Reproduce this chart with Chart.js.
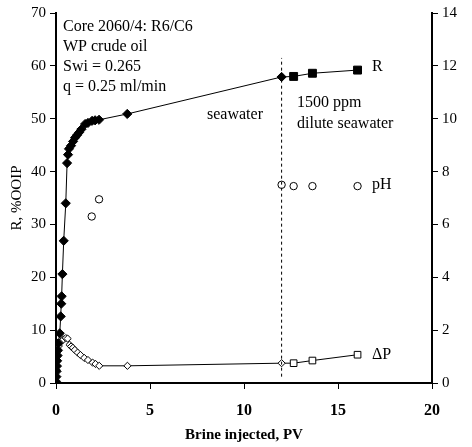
<!DOCTYPE html>
<html><head><meta charset="utf-8">
<script src="https://cdn.jsdelivr.net/npm/chart.js@4.4.1/dist/chart.umd.min.js"></script>
<style>html,body{margin:0;padding:0;background:#fff}</style>
</head><body>
<canvas id="c" width="472" height="447" style="display:block;width:472px;height:447px"></canvas>
<script>
// ---- data ----
const rSeaX = [0.0, 0.02, 0.03, 0.05, 0.06, 0.08, 0.1, 0.12, 0.2, 0.25, 0.28, 0.3, 0.34, 0.41, 0.52, 0.59, 0.64, 0.69, 0.8, 0.91, 1.01, 1.12, 1.23, 1.35, 1.55, 1.7, 1.92, 2.08, 2.29, 3.79, 12.0];
const rSeaY = [0.3, 1.2, 2.2, 3.2, 4.2, 5.2, 6.2, 7.5, 9.4, 12.6, 15.0, 16.4, 20.6, 26.9, 34.0, 41.6, 43.2, 44.3, 44.9, 45.7, 46.4, 46.9, 47.4, 48.0, 49.0, 49.2, 49.6, 49.7, 49.8, 50.9, 57.9];
const rDilX = [12.64, 13.64, 16.04];
const rDilY = [58.0, 58.6, 59.2];

const dpSeaX = [0.02, 0.04, 0.07, 0.1, 0.15, 0.25, 0.4, 0.52, 0.62, 0.72, 0.8, 0.9, 1.0, 1.15, 1.3, 1.5, 1.7, 1.95, 2.1, 2.3, 3.8, 12.0];
const dpSeaY = [0.5, 0.8, 1.0, 1.2, 1.4, 1.55, 1.65, 1.7, 1.68, 1.45, 1.38, 1.33, 1.25, 1.15, 1.06, 0.95, 0.87, 0.77, 0.72, 0.65, 0.65, 0.75];
const dpDilX = [12.64, 13.64, 16.04];
const dpDilY = [0.75, 0.85, 1.07];

const phX = [1.9, 2.29, 12.0, 12.64, 13.64, 16.04];
const phY = [6.3, 6.95, 7.5, 7.45, 7.45, 7.45];

const switchPV = 12;
const switchLine = [1.2, 61.5];

const xTicks = [0, 5, 10, 15, 20];
const yLeftTicks = [0, 10, 20, 30, 40, 50, 60, 70];
const yRightTicks = [0, 2, 4, 6, 8, 10, 12, 14];

// ---- build ----
const pts = (xs, ys) => xs.map((x, i) => ({x, y: ys[i]}));
const rData = pts(rSeaX, rSeaY).concat(pts(rDilX, rDilY));
const rStyle = rSeaX.map(() => 'rectRot').concat(rDilX.map(() => 'rect'));
const rRad = rSeaX.map(() => 4.6).concat(rDilX.map(() => 5.6));
const dpData = pts(dpSeaX, dpSeaY).concat(pts(dpDilX, dpDilY));
const dpStyle = dpSeaX.map(() => 'rectRot').concat(dpDilX.map(() => 'rect'));
const dpRad = dpSeaX.map(() => 3.6).concat(dpDilX.map(() => 4.7));

const SERIF = '"Liberation Serif", "Times New Roman", serif';

const annot = {
  id: 'annot',
  afterDraw(chart) {
    const ctx = chart.ctx;
    ctx.save();
    ctx.fillStyle = '#000';
    ctx.textBaseline = 'middle';
    ctx.textAlign = 'left';
    ctx.font = '16px ' + SERIF;
    const lines = ['Core 2060/4: R6/C6', 'WP crude oil', 'Swi = 0.265', 'q = 0.25 ml/min'];
    lines.forEach((t, i) => ctx.fillText(t, 63, 27 + i * 19.8));
    ctx.fillText('seawater', 207, 115);
    ctx.fillText('1500 ppm', 297, 103);
    ctx.fillText('dilute seawater', 297, 124);
    ctx.fillText('R', 372, 67);
    ctx.fillText('pH', 372, 185);
    ctx.fillText('\u0394P', 372, 355);
    ctx.restore();
  }
};

const axisCommon = (extra) => Object.assign({
  type: 'linear',
  grid: {display: true, drawOnChartArea: false, drawTicks: true, tickLength: 6, color: '#000', lineWidth: 1},
  border: {display: true, color: '#000', width: 2},
}, extra);

new Chart(document.getElementById('c'), {
  type: 'scatter',
  data: {
    datasets: [
      {
        label: 'switch', data: [{x: switchPV, y: switchLine[0]}, {x: switchPV, y: switchLine[1]}],
        yAxisID: 'y', showLine: true, borderColor: '#000', borderWidth: 1, borderDash: [3, 3], pointRadius: 0
      },
      {
        label: 'R', data: rData, yAxisID: 'y', showLine: true, tension: 0,
        borderColor: '#000', borderWidth: 1,
        pointStyle: rStyle, pointRadius: rRad, pointBackgroundColor: '#000', pointBorderColor: '#000', pointBorderWidth: 1
      },
      {
        label: 'dP', data: dpData, yAxisID: 'y2', showLine: true, tension: 0,
        borderColor: '#000', borderWidth: 1,
        pointStyle: dpStyle, pointRadius: dpRad, pointBackgroundColor: '#fff', pointBorderColor: '#000', pointBorderWidth: 1
      },
      {
        label: 'pH', data: pts(phX, phY), yAxisID: 'y2', showLine: false,
        pointStyle: 'circle', pointRadius: 3.7, pointBackgroundColor: '#fff', pointBorderColor: '#000', pointBorderWidth: 1
      }
    ]
  },
  options: {
    responsive: false, animation: false, devicePixelRatio: 1,
    layout: {padding: {top: 13, left: 0, right: 0, bottom: 0}},
    plugins: {legend: {display: false}, tooltip: {enabled: false}},
    scales: {
      x: axisCommon({
        position: 'bottom', min: 0, max: 20,
        afterFit(s) { s.height = 64; },
        afterBuildTicks(s) { s.ticks = xTicks.map(v => ({value: v})); },
        ticks: {color: '#000', padding: 12, font: {family: SERIF, size: 16, weight: 'bold'}},
        title: {display: true, text: 'Brine injected, PV', color: '#000', padding: {bottom: 3, top: 0}, font: {family: SERIF, size: 15, weight: 'bold'}}
      }),
      y: axisCommon({
        position: 'left', min: 0, max: 70,
        afterFit(s) { s.width = 56; },
        afterBuildTicks(s) { s.ticks = yLeftTicks.map(v => ({value: v})); },
        ticks: {color: '#000', padding: 4, font: {family: SERIF, size: 15}},
        title: {display: true, text: 'R, %OOIP', color: '#000', padding: {top: 8}, font: {family: SERIF, size: 15}}
      }),
      y2: axisCommon({
        position: 'right', min: 0, max: 14,
        afterFit(s) { s.width = 40; },
        afterBuildTicks(s) { s.ticks = yRightTicks.map(v => ({value: v})); },
        ticks: {color: '#000', padding: 4, font: {family: SERIF, size: 15}}
      })
    }
  },
  plugins: [annot]
});
</script>
</body></html>
